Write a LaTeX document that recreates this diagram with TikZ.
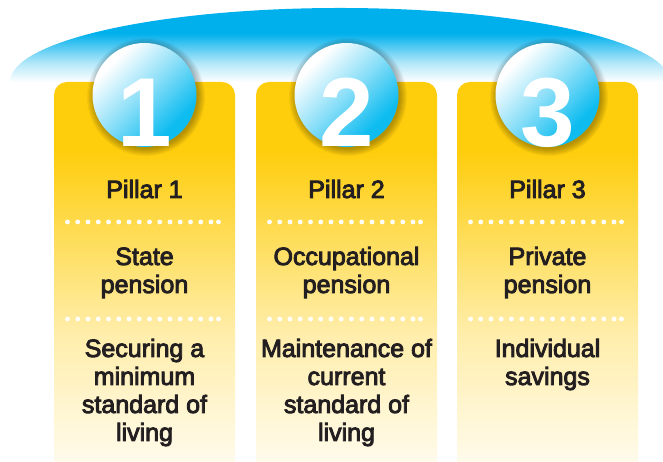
\documentclass[tikz,border=0pt]{standalone}
\usepackage{fontspec}
\setmainfont{Liberation Sans}
\newfontfamily\pillarfont{Liberation Sans}[FakeBold=3.5]

\definecolor{pillaryellow}{RGB}{254,205,12}
\definecolor{skyblue}{RGB}{0,176,236}
\definecolor{ballblue}{RGB}{14,188,240}
\definecolor{inkgray}{RGB}{35,31,32}

\pgfdeclareverticalshading{pillarfade}{100bp}{color(0bp)=(pillaryellow!8!white); color(25bp)=(pillaryellow!8!white); color(42bp)=(pillaryellow!35!white); color(57bp)=(pillaryellow!75!white); color(66bp)=(pillaryellow); color(100bp)=(pillaryellow)}
\pgfdeclareverticalshading{skyfade}{100bp}{color(0bp)=(white); color(25bp)=(white); color(38bp)=(skyblue!30!white); color(58bp)=(skyblue); color(100bp)=(skyblue)}
\pgfdeclareverticalshading{ballfade}{100bp}{color(0bp)=(ballblue); color(30bp)=(ballblue); color(50bp)=(ballblue!50!white); color(72bp)=(white); color(100bp)=(white)}

\newcommand\dotrow[1]{%
  \foreach \i in {0,...,14} \fill[white] (-77+10.25*\i,#1) circle (2.4);
  \fill[white] (74,#1) circle (2.4);}
\newcommand\pillarbody{%
  \shade[shading=pillarfade] (-90.5,0) -- (-90.5,367) arc (180:90:13) -- (77.5,380) arc (90:0:13) -- (90.5,0) -- cycle;}
\newcommand\ballshadow{%
  \foreach \r in {52,...,59} \fill[black, opacity=0.04] (1.5,365) circle (\r);}

\begin{document}
\begin{tikzpicture}[x=1pt,y=1pt,
  pillartext/.style={text=inkgray, font=\pillarfont\fontsize{25}{28}\selectfont, align=center, inner sep=0pt, anchor=base},
  ball/.style={circle, minimum size=104pt, inner sep=0pt, shading=ballfade, shading angle=45},
  ballnum/.style={text=white, font=\fontsize{98}{98}\selectfont\bfseries, inner sep=0pt, anchor=base}]
\useasboundingbox[fill=white] (0,0) rectangle (663,462);

\shade[shading=skyfade] (10,380) arc (180:0:330 and 74) -- cycle;

\begin{scope}[xshift=144.5pt]
\pillarbody
\dotrow{240}
\dotrow{143}
\node[pillartext] (title1) at (0,264) {Pillar 1};
\node[pillartext] (kind1) at (0,169) {State\\pension};
\node[pillartext] (goal1) at (0,21) {Securing a\\minimum\\standard of\\living};
\ballshadow
\node[ball] (ball1) at (0,367) {};
\node[ballnum] (num1) at (0,315) {1};
\end{scope}

\begin{scope}[xshift=346.5pt]
\pillarbody
\dotrow{240}
\dotrow{143}
\node[pillartext] (title2) at (0,264) {Pillar 2};
\node[pillartext] (kind2) at (0,169) {Occupational\\pension};
\node[pillartext] (goal2) at (0,21) {Maintenance of\\current\\standard of\\living};
\ballshadow
\node[ball] (ball2) at (0,367) {};
\node[ballnum] (num2) at (0,315) {2};
\end{scope}

\begin{scope}[xshift=547.5pt]
\pillarbody
\dotrow{240}
\dotrow{143}
\node[pillartext] (title3) at (0,264) {Pillar 3};
\node[pillartext] (kind3) at (0,169) {Private\\pension};
\node[pillartext] (goal3) at (0,77) {Individual\\savings};
\ballshadow
\node[ball] (ball3) at (0,367) {};
\node[ballnum] (num3) at (0,315) {3};
\end{scope}

\end{tikzpicture}
\end{document}
